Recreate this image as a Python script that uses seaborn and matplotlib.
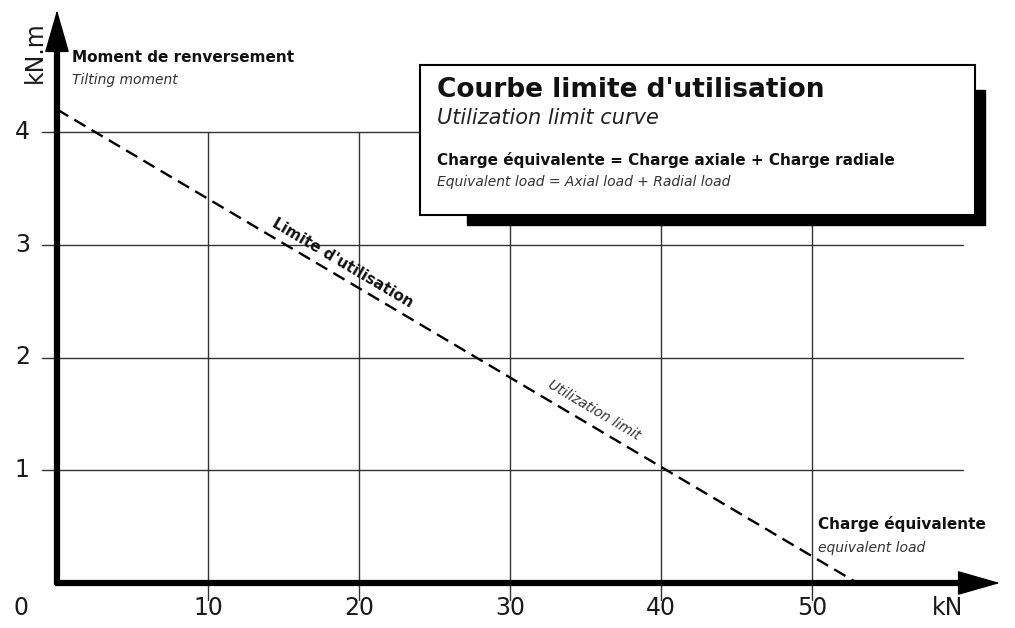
import matplotlib
matplotlib.use("Agg")
import matplotlib.pyplot as plt
import seaborn as sns
import pandas as pd
from matplotlib.patches import Rectangle

# data
load_kn = [0, 53]
moment_knm = [4.2, 0]
x_ticks = [10, 20, 30, 40, 50]
y_ticks = [1, 2, 3, 4]

sns.set_style("white")
plt.rcParams['font.family'] = ['DejaVu Sans']

W, H = 1015, 628
fig = plt.figure(figsize=(W / 100, H / 100), dpi=100)
# origin at pixel (57, 583), 15.1 px per kN, 112.75 px per kN.m
x_max = (1000 - 57) / 15.1
y_max = (583 - 10) / 112.75
ax = fig.add_axes([57 / W, (H - 583) / H, 943 / W, 573 / H])
ax.set_xlim(0, x_max)
ax.set_ylim(0, y_max)
ax.axis("off")

grid_col = "#333333"
for xv in x_ticks:
    ax.plot([xv, xv], [-0.15, 4], color=grid_col, lw=1, clip_on=False, zorder=1)
for yv in y_ticks:
    ax.plot([-1, 60], [yv, yv], color=grid_col, lw=1, clip_on=False, zorder=1)

df = pd.DataFrame({"load": load_kn, "moment": moment_knm})
sns.lineplot(data=df, x="load", y="moment", ax=ax, color="black", lw=1.7,
             linestyle=(0, (5.5, 3)), zorder=3)

# axes: thick shaft + slender arrow head
ax.plot([-0.15, x_max - 1.5], [0, 0], color="black", lw=4.5, solid_capstyle="butt",
        clip_on=False, zorder=5)
ax.plot([0, 0], [-0.02, y_max - 0.2], color="black", lw=4.5, solid_capstyle="butt",
        clip_on=False, zorder=5)
head = dict(arrowstyle="-|>,head_length=2.8,head_width=0.8", color="black", lw=1,
            shrinkA=0, shrinkB=0, mutation_scale=10)
ax.annotate("", xy=(x_max, 0), xytext=(x_max - 4, 0), arrowprops=head,
            annotation_clip=False, zorder=6)
ax.annotate("", xy=(0, y_max), xytext=(0, y_max - 0.5), arrowprops=head,
            annotation_clip=False, zorder=6)

# tick labels
tick_kw = dict(fontsize=17, color="#1a1a1a")
ax.text(-2.4, -0.22, "0", ha="center", va="center", clip_on=False, **tick_kw)
for xv in x_ticks:
    ax.text(xv, -0.22, str(xv), ha="center", va="center", **tick_kw)
ax.text(59, -0.22, "kN", ha="center", va="center", **tick_kw)
for yv in y_ticks:
    ax.text(-2.3, yv, str(yv), ha="center", va="center", **tick_kw)
fig.text(35 / W, 1 - 52 / H, "kN.m", rotation=90, ha="center", va="center", **tick_kw)

# axis captions
fig.text(72 / W, 1 - 58 / H, "Moment de renversement", fontsize=11,
         fontweight="bold", color="#111111", va="center")
fig.text(72 / W, 1 - 80 / H, "Tilting moment", fontsize=10, style="italic",
         color="#333333", va="center")
fig.text(818 / W, 1 - 524 / H, "Charge équivalente", fontsize=11,
         fontweight="bold", color="#111111", va="center")
fig.text(818 / W, 1 - 548 / H, "equivalent load", fontsize=10, style="italic",
         color="#333333", va="center")

# labels along the line
ang = -30.6
fig.text(343 / W, 1 - 263 / H, "Limite d'utilisation", rotation=ang, fontsize=11,
         fontweight="bold", color="#111111", ha="center", va="center",
         rotation_mode="anchor")
fig.text(594 / W, 1 - 410 / H, "Utilization limit", rotation=ang, fontsize=10,
         style="italic", color="#333333", ha="center", va="center", rotation_mode="anchor")

# title box with shadow
fig.patches.append(Rectangle((467 / W, 1 - 225 / H), (985 - 467) / W, (225 - 90) / H,
                             transform=fig.transFigure, facecolor="black",
                             edgecolor="black", zorder=10))
fig.patches.append(Rectangle((420 / W, 1 - 215 / H), (975 - 420) / W, (215 - 65) / H,
                             transform=fig.transFigure, facecolor="white",
                             edgecolor="black", lw=1.5, zorder=11))
fig.text(437 / W, 1 - 90 / H, "Courbe limite d'utilisation", fontsize=19,
         fontweight="bold", color="#111111", va="center", zorder=12)
fig.text(437 / W, 1 - 118 / H, "Utilization limit curve", fontsize=15,
         style="italic", color="#222222", va="center", zorder=12)
fig.text(437 / W, 1 - 160 / H, "Charge équivalente = Charge axiale + Charge radiale",
         fontsize=11, fontweight="bold", color="#111111", va="center", zorder=12)
fig.text(437 / W, 1 - 182 / H, "Equivalent load = Axial load + Radial load",
         fontsize=10, style="italic", color="#333333", va="center", zorder=12)

fig.savefig("out.png", dpi=100, facecolor="white")
